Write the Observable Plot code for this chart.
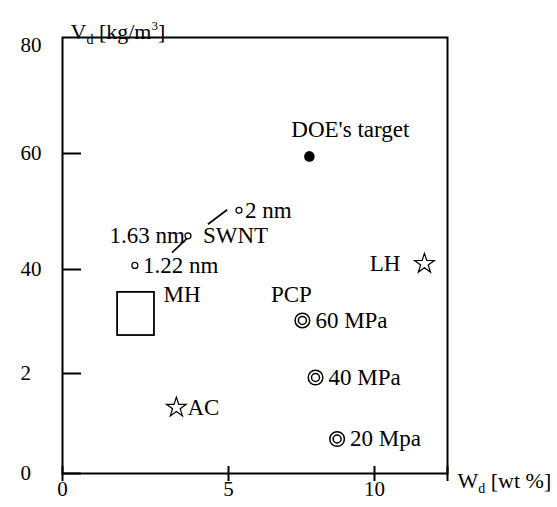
<!DOCTYPE html>
<html><head><meta charset="utf-8">
<script src="https://cdn.jsdelivr.net/npm/d3@7"></script>
<script src="https://cdn.jsdelivr.net/npm/@observablehq/plot@0.6"></script>
<style>html,body{margin:0;padding:0;background:#fff;overflow:hidden} svg text{font-family:"Liberation Serif","DejaVu Serif",serif}</style>
</head><body><div id="chart"></div>
<script>
// ---- data ----
const xTicks = [0, 5, 10];
const xTickLabels = ["0", "5", "10"];
const xTickMarks = [0, 5, 10, 12.5];
const yTicks = [0, 20, 40, 60, 80];
const yTickLabels = ["0", "2", "40", "60", "80"];
const yTickMarks = [0, 20, 40, 60];
const xTitle = "Wd [wt %]";
const yTitle = "Vd [kg/m3]";

const doeName = ["DOE's target"];
const doeW = [7.77];
const doeV = [59.5];

const swntGroup = ["SWNT"];
const swntNames = ["2 nm", "1.63 nm", "1.22 nm"];
const swntW = [5.36, 3.78, 2.18];
const swntV = [50.2, 45.8, 40.7];
const leaderW1 = [3.30, 4.38];
const leaderV1 = [42.9, 47.8];
const leaderW2 = [3.83, 4.96];
const leaderV2 = [45.8, 50.3];

const pcpGroup = ["PCP"];
const pcpNames = ["60 MPa", "40 MPa", "20 Mpa"];
const pcpW = [7.53, 7.98, 8.72];
const pcpV = [30.2, 19.2, 6.9];

const starNames = ["LH", "AC"];
const starW = [11.71, 3.43];
const starV = [41.0, 13.2];

const mhName = ["MH"];
const mhW1 = [1.66], mhW2 = [2.77];
const mhV1 = [27.3], mhV2 = [35.6];

// ---- chart ----
const FONT = "Liberation Serif";
const W = 557, H = 507;
const mL = 62, mR = 110, mT = 37, mB = 34;
const innerW = W - mL - mR, innerH = H - mT - mB;
const lbl = 23;
const T = {fontFamily: FONT};

// the printed axes of the original are not evenly spaced: warp them piecewise
const xWarp = d3.scaleLinear().domain([0, 5, 10]).range([0, 166, 312]);
const yWarp = d3.scaleLinear().domain([0, 20, 40, 60, 80]).range([0, 100, 204, 320, 428]);

const chart = Plot.plot({
  width: W, height: H,
  marginLeft: mL, marginRight: mR, marginTop: mT, marginBottom: mB,
  style: {fontFamily: FONT, background: "white", color: "black", overflow: "visible"},
  x: {type: "linear", transform: xWarp, domain: [0, innerW], axis: null},
  y: {type: "linear", transform: yWarp, domain: [0, innerH], axis: null},
  marks: [
    Plot.frame({stroke: "black", strokeWidth: 2}),
    // tick marks
    Plot.tickY(yTickMarks, {y: d => d, insetRight: innerW - 19, stroke: "black", strokeWidth: 2}),
    Plot.tickX(xTickMarks, {x: d => d, insetTop: innerH - 15, dy: 8, stroke: "black", strokeWidth: 2}),
    // tick labels
    Plot.text(xTicks, {...T, x: d => d, text: (d, i) => xTickLabels[i], frameAnchor: "bottom", dy: 22, fontSize: 21}),
    Plot.text(yTicks, {...T, y: d => d, text: (d, i) => yTickLabels[i], frameAnchor: "left", textAnchor: "start", dx: -42, fontSize: 21}),
    // axis titles
    Plot.text([yTitle], {...T, frameAnchor: "top-left", textAnchor: "start", dx: 8, dy: -14, fontSize: 22}),
    Plot.text([xTitle], {...T, frameAnchor: "bottom-right", textAnchor: "start", dx: 10, dy: 14, fontSize: 22}),
    // DOE target
    Plot.dot(doeName, {x: doeW, y: doeV, r: 5.3, fill: "black", stroke: "none"}),
    Plot.text(doeName, {...T, x: doeW, y: doeV, text: d => d, dx: 41, dy: -27, fontSize: lbl}),
    // SWNT
    Plot.link([0, 1], {x1: leaderW1, y1: leaderV1, x2: leaderW2, y2: leaderV2, stroke: "black", strokeWidth: 1.6}),
    Plot.dot(swntNames, {x: swntW, y: swntV, r: 3, fill: "white", stroke: "black", strokeWidth: 1.2}),
    Plot.text(swntNames, {...T, x: swntW, y: swntV, text: d => d, filter: (d, i) => i === 0, textAnchor: "start", dx: 6, fontSize: lbl}),
    Plot.text(swntNames, {...T, x: swntW, y: swntV, text: d => d, filter: (d, i) => i === 1, textAnchor: "end", dx: -3, fontSize: lbl}),
    Plot.text(swntNames, {...T, x: swntW, y: swntV, text: d => d, filter: (d, i) => i === 2, textAnchor: "start", dx: 8, fontSize: lbl}),
    Plot.text(swntGroup, {...T, x: [swntW[1]], y: [swntV[1]], text: d => d, textAnchor: "start", dx: 15, fontSize: lbl}),
    // MH
    Plot.rect(mhName, {x1: mhW1, x2: mhW2, y1: mhV1, y2: mhV2, fill: "none", stroke: "black", strokeWidth: 1.8}),
    Plot.text(mhName, {...T, x: mhW2, y: mhV2, text: d => d, textAnchor: "start", dx: 9, dy: 2, fontSize: lbl}),
    // PCP
    Plot.dot(pcpNames, {x: pcpW, y: pcpV, r: 7.3, fill: "none", stroke: "black", strokeWidth: 1.5}),
    Plot.dot(pcpNames, {x: pcpW, y: pcpV, r: 4, fill: "none", stroke: "black", strokeWidth: 1.5}),
    Plot.text(pcpNames, {...T, x: pcpW, y: pcpV, text: d => d, textAnchor: "start", dx: 13, fontSize: lbl}),
    Plot.text(pcpGroup, {...T, x: [pcpW[0]], y: [pcpV[0]], text: d => d, dx: -11, dy: -26, fontSize: lbl}),
    // stars
    Plot.dot(starNames, {x: starW, y: starV, symbol: "star", r: 6.2, fill: "white", stroke: "black", strokeWidth: 1.2}),
    Plot.text(starNames, {...T, x: starW, y: starV, text: d => d, filter: (d, i) => i === 0, textAnchor: "end", dx: -24, fontSize: lbl}),
    Plot.text(starNames, {...T, x: starW, y: starV, text: d => d, filter: (d, i) => i === 1, textAnchor: "start", dx: 11, fontSize: lbl})
  ]
});
document.getElementById("chart").append(chart);

// subscripts / superscripts in axis titles
d3.select(chart).selectAll("text").each(function() {
  const t = d3.select(this);
  const s = this.textContent;
  if (s === yTitle || s === xTitle) {
    t.text(null);
    t.append("tspan").text(s[0]);
    t.append("tspan").attr("font-size", 14).attr("dy", 5).text("d");
    if (s === yTitle) {
      t.append("tspan").attr("dy", -5).text(" [kg/m");
      t.append("tspan").attr("font-size", 13).attr("dy", -9).text("3");
      t.append("tspan").attr("dy", 9).text("]");
    } else {
      t.append("tspan").attr("dy", -5).text(" [wt %]");
    }
  }
});
</script>
</body></html>
